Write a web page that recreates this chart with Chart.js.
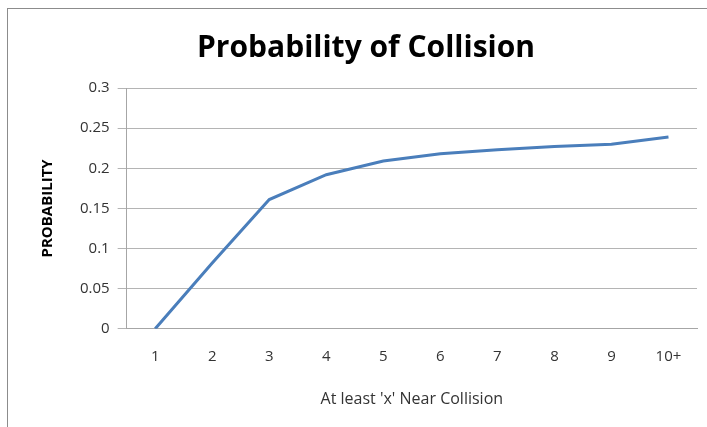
<!DOCTYPE html>
<html>
<head>
<meta charset="utf-8">
<script src="https://cdn.jsdelivr.net/npm/chart.js@4"></script>
<style>
  html, body { margin: 0; padding: 0; background: #fff; }
  #wrap { position: relative; width: 707px; height: 427px; }
  #frame { position: absolute; left: 7px; top: 8px; right: 0; bottom: 0;
           border-top: 1px solid #8c8c8c; border-left: 1px solid #8c8c8c; }
  canvas { position: absolute; left: 0; top: 0; }
</style>
</head>
<body>
<div id="wrap">
  <div id="frame"></div>
  <canvas id="lineChart" width="707" height="427"></canvas>
</div>
<script>
var categories = ["1", "2", "3", "4", "5", "6", "7", "8", "9", "10+"];
var probability = [0, 0.082, 0.161, 0.192, 0.209, 0.218, 0.223, 0.227, 0.230, 0.239];
var yTicks = [0, 0.05, 0.1, 0.15, 0.2, 0.25, 0.3];

var ctxL = document.getElementById("lineChart").getContext('2d');
var myLineChart = new Chart(ctxL, {
    type: 'line',
    data: {
        labels: categories,
        datasets: [
            {
                label: 'Probability',
                data: probability,
                borderColor: "#4a7ebb",
                borderWidth: 3,
                pointRadius: 0,
                tension: 0,
                fill: false
            }
        ]
    },
    options: {
        responsive: false,
        animation: false,
        layout: { padding: { left: 35, right: 10, top: 12, bottom: 14 } },
        plugins: {
            legend: { display: false },
            tooltip: { enabled: false },
            title: {
                display: true,
                text: 'Probability of Collision',
                color: '#000',
                font: { family: 'Open Sans', size: 30, weight: 'bold' },
                padding: { top: 18, bottom: 22 }
            }
        },
        scales: {
            x: {
                offset: true,
                grid: { display: false },
                border: { display: true, color: '#a6a6a6', width: 1 },
                ticks: { color: '#333', font: { family: 'Open Sans', size: 15 }, padding: 11 },
                title: {
                    display: true,
                    text: "At least 'x' Near Collision",
                    color: '#333',
                    font: { family: 'Open Sans', size: 16 },
                    padding: { top: 13 }
                }
            },
            y: {
                min: 0,
                max: 0.3,
                afterBuildTicks: function (axis) {
                    axis.ticks = yTicks.map(function (v) { return { value: v }; });
                },
                grid: { color: '#b4b4b4', lineWidth: 1, tickLength: 9, drawTicks: true },
                border: { display: true, color: '#a6a6a6', width: 1 },
                ticks: {
                    color: '#333',
                    font: { family: 'Open Sans', size: 15 },
                    padding: 8,
                    callback: function (v) { return String(+Number(v).toFixed(2)); }
                },
                title: {
                    display: true,
                    text: 'PROBABILITY',
                    color: '#000',
                    font: { family: 'Open Sans', size: 15, weight: 'bold' },
                    padding: { bottom: 15 }
                }
            }
        }
    }
});
</script>
</body>
</html>
